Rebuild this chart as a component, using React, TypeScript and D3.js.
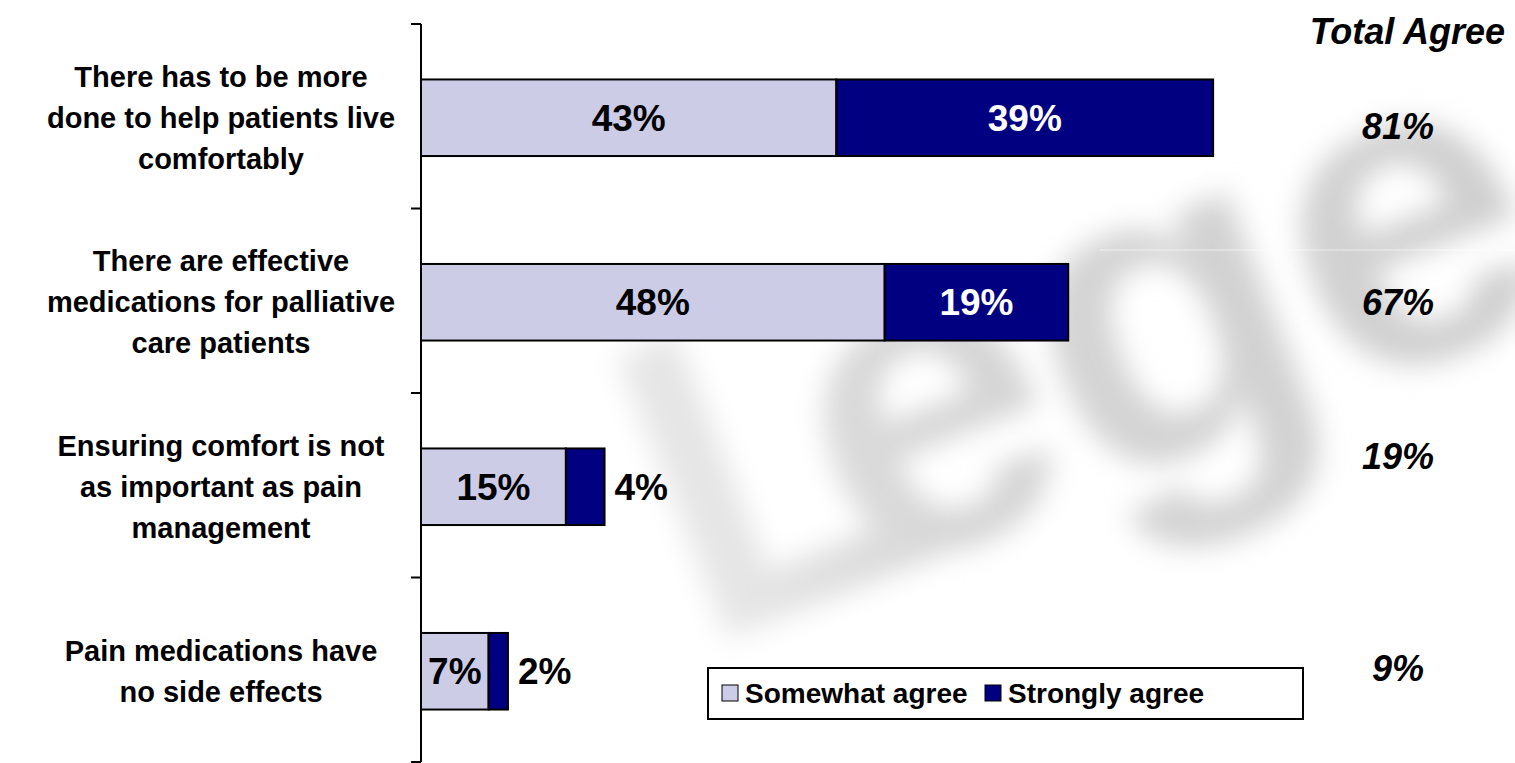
import React from 'react';
import * as d3 from 'd3';

// Survey statements (one row each)
const statements: string[][] = [
  ['There has to be more', 'done to help patients live', 'comfortably'],
  ['There are effective', 'medications for palliative', 'care patients'],
  ['Ensuring comfort is not', 'as important as pain', 'management'],
  ['Pain medications have', 'no side effects'],
];

const somewhatAgree = [43, 48, 15, 7];
const stronglyAgree = [39, 19, 4, 2];
const totalAgree = [81, 67, 19, 9];

const seriesNames = ['Somewhat agree', 'Strongly agree'];
const seriesColors = ['#CCCCE6', '#000080'];

const width = 1515;
const height = 763;
const axisX = 421;
const axisTop = 24;
const axisBottom = 762;
const font = '"Liberation Sans", Arial, sans-serif';

// small vertical nudges of the Total Agree column, as in the original slide
const totalNudge = [9, 0, -30, -3];

const App: React.FC = () => {
  const rows = statements.map((_, i) => String(i));

  const y = d3.scaleBand<string>()
    .domain(rows)
    .range([axisTop, axisBottom])
    .padding(0);

  const x = d3.scaleLinear()
    .domain([0, 100])
    .range([axisX, axisX + 966]);

  const barH = y.bandwidth() * 0.415;
  const lineH = 41;

  return (
    <svg width={width} height={height} viewBox={`0 0 ${width} ${height}`}
      style={{ position: 'absolute', left: 0, top: 0, background: '#fff' }}
      fontFamily={font}>
      <defs>
        <filter id="wm" x="-20%" y="-20%" width="140%" height="140%">
          <feGaussianBlur stdDeviation="14" />
        </filter>
        <linearGradient id="fade" x1="0" y1="0" x2="1" y2="0">
          <stop offset="0" stopColor="#eaeaea" />
          <stop offset="0.3" stopColor="#d6d6d6" />
          <stop offset="1" stopColor="#cfcfcf" />
        </linearGradient>
      </defs>

      {/* faint watermark */}
      <g transform="translate(700,650) rotate(-21.5)" filter="url(#wm)">
        <text fontSize={440} fontWeight="bold" fill="url(#fade)" fontFamily={font}>
          <tspan>L</tspan><tspan dx={-94}>ege</tspan>
        </text>
      </g>
      <line x1={1100} x2={width} y1={250} y2={250} stroke="#fff" strokeOpacity={0.6} strokeWidth={1} />

      {/* axis */}
      <line x1={axisX} x2={axisX} y1={axisTop} y2={axisBottom} stroke="#000" strokeWidth={2} />
      {d3.range(rows.length + 1).map(i => {
        const ty = axisTop + i * y.step();
        return <line key={i} x1={axisX - 10} x2={axisX} y1={ty} y2={ty} stroke="#000" strokeWidth={2} />;
      })}

      {rows.map((r, i) => {
        const cy = (y(r) as number) + y.bandwidth() / 2 + 1.5;
        const x0 = x(0);
        const x1 = x(somewhatAgree[i]);
        const x2 = x(somewhatAgree[i] + stronglyAgree[i]);
        const lines = statements[i];
        const labelTop = cy - ((lines.length - 1) * lineH) / 2;
        const darkInside = x2 - x1 > 70;
        return (
          <g key={r}>
            {lines.map((t, j) => (
              <text key={j} x={221} y={labelTop + j * lineH} dy="0.35em" textAnchor="middle"
                fontSize={29} fontWeight="bold" fill="#000">{t}</text>
            ))}
            <rect x={x0} y={cy - barH / 2} width={x1 - x0} height={barH}
              fill={seriesColors[0]} stroke="#000" strokeWidth={2} />
            <rect x={x1} y={cy - barH / 2} width={x2 - x1} height={barH}
              fill={seriesColors[1]} stroke="#000" strokeWidth={2} />
            <text x={(x0 + x1) / 2} y={cy} dy="0.35em" textAnchor="middle"
              fontSize={37} fontWeight="bold" fill="#000">{somewhatAgree[i]}%</text>
            {darkInside ? (
              <text x={(x1 + x2) / 2} y={cy} dy="0.35em" textAnchor="middle"
                fontSize={37} fontWeight="bold" fill="#fff">{stronglyAgree[i]}%</text>
            ) : (
              <text x={x2 + 10} y={cy} dy="0.35em" textAnchor="start"
                fontSize={37} fontWeight="bold" fill="#000">{stronglyAgree[i]}%</text>
            )}
            <text x={1398} y={cy + totalNudge[i]} dy="0.35em" textAnchor="middle"
              fontSize={36} fontWeight="bold" fontStyle="italic" fill="#000">{totalAgree[i]}%</text>
          </g>
        );
      })}

      <text x={1505} y={31} dy="0.35em" textAnchor="end" fontSize={36}
        fontWeight="bold" fontStyle="italic" fill="#000">Total Agree</text>

      {/* legend */}
      <g>
        <rect x={708} y={668} width={595} height={51} fill="#fff" stroke="#000" strokeWidth={2} />
        {seriesNames.map((name, k) => {
          const lx = k === 0 ? 722 : 985;
          return (
            <g key={name}>
              <rect x={lx} y={685} width={16} height={16} fill={seriesColors[k]} stroke="#000" strokeWidth={1} />
              <text x={lx + 23} y={693} dy="0.35em" fontSize={28} fontWeight="bold" fill="#000">{name}</text>
            </g>
          );
        })}
      </g>
    </svg>
  );
};

export default App;
